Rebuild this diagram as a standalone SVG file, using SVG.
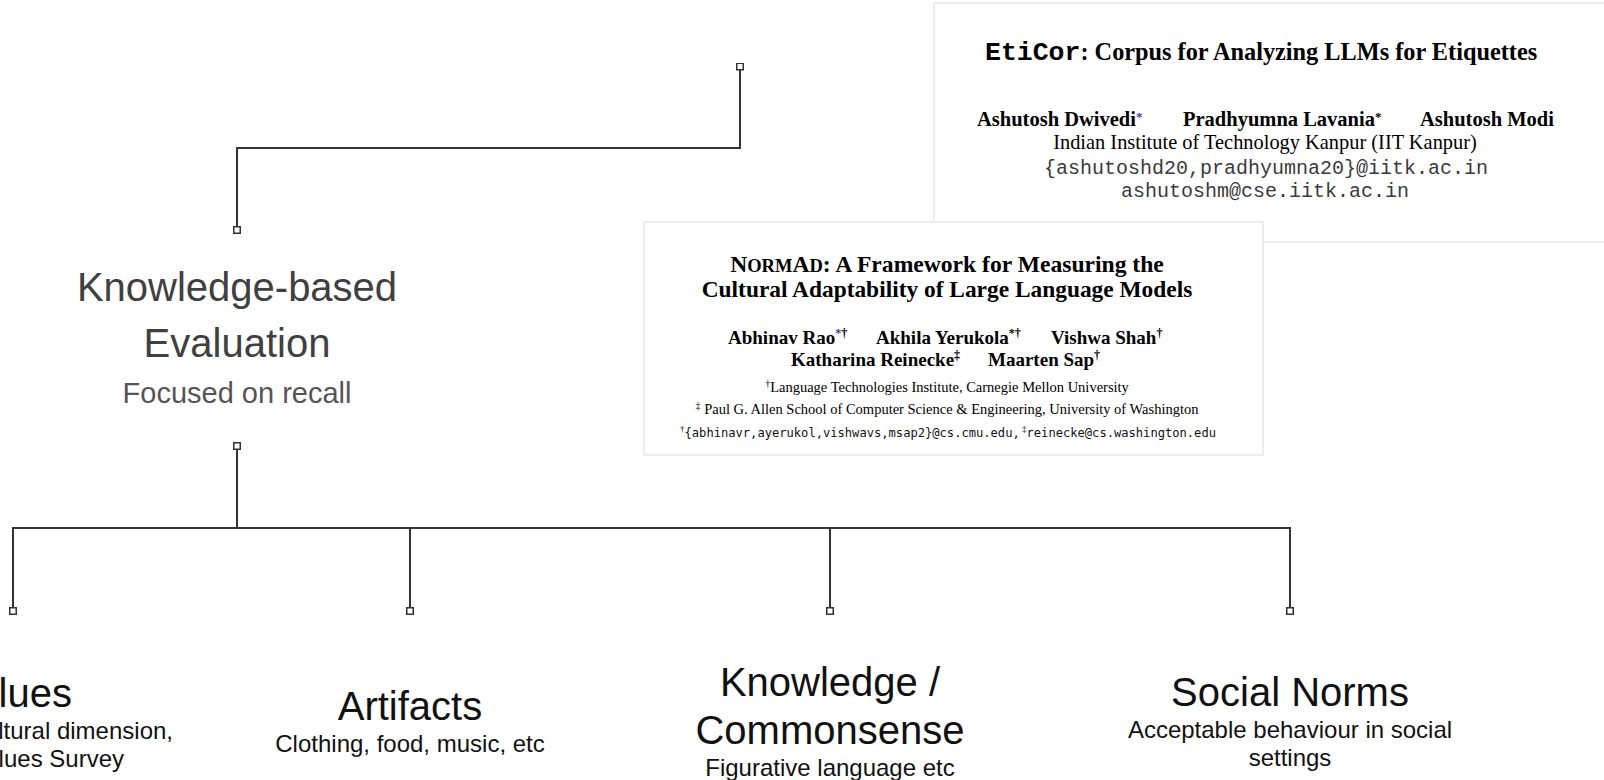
<svg xmlns="http://www.w3.org/2000/svg" width="1604" height="780" viewBox="0 0 1604 780">
  <style>
    .card { fill: #ffffff; stroke: #e6e6e6; stroke-width: 1.5; }
    .serif { font-family: "Liberation Serif", "Times New Roman", serif; fill: #000; }
    .b { font-weight: bold; }
    .mono { font-family: "Liberation Mono", "Courier New", monospace; }
    .tt { font-family: "DejaVu Sans Mono", monospace; }
    .sans { font-family: "Liberation Sans", Arial, sans-serif; }
    .mid { text-anchor: middle; }
    .end { text-anchor: end; }
    .head { font-size: 40px; fill: #111; }
    .sub { font-size: 24px; fill: #111; }
    .link { fill: none; stroke: #333; stroke-width: 2; marker-start: url(#box); marker-end: url(#box); }
    .blue { fill: #3b3bb3; }
  </style>
  <defs>
    <marker id="box" viewBox="0 0 8 8" refX="4" refY="4" markerWidth="8" markerHeight="8" markerUnits="userSpaceOnUse" orient="auto">
      <rect x="0.75" y="0.75" width="6.5" height="6.5" fill="#fff" stroke="#333" stroke-width="1.5"/>
    </marker>
  </defs>

  <rect width="1604" height="780" fill="#fff"/>

  <!-- EtiCor paper header -->
  <g id="paper-eticor">
    <rect class="card" x="934" y="3" width="700" height="239"/>
    <text class="serif b" x="985" y="60" font-size="24.3"><tspan class="mono" font-size="26.5">EtiCor</tspan>: Corpus for Analyzing LLMs for Etiquettes</text>
    <text class="serif b" font-size="20.5" y="126">
      <tspan x="977">Ashutosh Dwivedi</tspan><tspan class="blue" font-size="13" dy="-5">*</tspan>
      <tspan x="1183" dy="5">Pradhyumna Lavania</tspan><tspan font-size="13" dy="-5">*</tspan>
      <tspan x="1420" dy="5">Ashutosh Modi</tspan>
    </text>
    <text class="serif mid" x="1265" y="149" font-size="20.4">Indian Institute of Technology Kanpur (IIT Kanpur)</text>
    <text class="mono mid" x="1266" y="174" font-size="20" fill="#3a3a3a">{ashutoshd20,pradhyumna20}@iitk.ac.in</text>
    <text class="mono mid" x="1265" y="197" font-size="20" fill="#3a3a3a">ashutoshm@cse.iitk.ac.in</text>
  </g>

  <!-- NormAd paper header -->
  <g id="paper-normad">
    <rect class="card" x="644" y="222" width="619" height="233"/>
    <text class="serif b mid" x="947" y="272" font-size="23.6"><tspan>N</tspan><tspan font-size="18.5">ORM</tspan><tspan>A</tspan><tspan font-size="18.5">D</tspan>: A Framework for Measuring the</text>
    <text class="serif b mid" x="947" y="297" font-size="23.4">Cultural Adaptability of Large Language Models</text>
    <text class="serif b" font-size="19" y="344">
      <tspan x="728">Abhinav Rao</tspan><tspan font-size="12" dy="-7"><tspan class="blue">*</tspan>†</tspan>
      <tspan x="876" dy="7">Akhila Yerukola</tspan><tspan font-size="12" dy="-7">*†</tspan>
      <tspan x="1051" dy="7">Vishwa Shah</tspan><tspan font-size="12" dy="-7">†</tspan>
    </text>
    <text class="serif b" font-size="19" y="366">
      <tspan x="791">Katharina Reinecke</tspan><tspan font-size="12" dy="-7">‡</tspan>
      <tspan x="988" dy="7">Maarten Sap</tspan><tspan font-size="12" dy="-7">†</tspan>
    </text>
    <text class="serif mid" x="947" y="392" font-size="14.5"><tspan font-size="10" dy="-5">†</tspan><tspan dy="5">Language Technologies Institute, Carnegie Mellon University</tspan></text>
    <text class="serif mid" x="947" y="414" font-size="14.5"><tspan font-size="10" dy="-5">‡</tspan><tspan dy="5"> Paul G. Allen School of Computer Science &amp; Engineering, University of Washington</tspan></text>
    <text x="680" y="437" font-size="12" fill="#111" textLength="536" lengthAdjust="spacingAndGlyphs"><tspan class="serif" font-size="9" dy="-5">†</tspan><tspan class="tt" dy="5">{abhinavr,ayerukol,vishwavs,msap2}@cs.cmu.edu,</tspan><tspan class="serif" font-size="9" dy="-5"> ‡</tspan><tspan class="tt" dy="5">reinecke@cs.washington.edu</tspan></text>
  </g>

  <!-- connectors -->
  <g id="connectors">
    <path class="link" d="M740 66.5 V148 H237 V230"/>
    <path class="link" d="M237 446 V528 H13 V611"/>
    <path class="link" d="M237 446 V528 H410 V611"/>
    <path class="link" d="M237 446 V528 H830 V611"/>
    <path class="link" d="M237 446 V528 H1290 V611"/>
  </g>

  <!-- root category -->
  <g id="knowledge-based">
    <text class="sans mid" x="237" y="301" font-size="40" fill="#404040">Knowledge-based</text>
    <text class="sans mid" x="237" y="357" font-size="40" fill="#404040">Evaluation</text>
    <text class="sans mid" x="237" y="403" font-size="29" fill="#555">Focused on recall</text>
  </g>

  <!-- leaf categories -->
  <g id="values">
    <text class="sans end head" x="72" y="707">lues</text>
    <text class="sans end sub" x="173" y="739">ltural dimension,</text>
    <text class="sans end sub" x="124" y="767">lues Survey</text>
  </g>
  <g id="artifacts">
    <text class="sans mid head" x="410" y="720">Artifacts</text>
    <text class="sans mid sub" x="410" y="752">Clothing, food, music, etc</text>
  </g>
  <g id="knowledge-commonsense">
    <text class="sans mid head" x="830" y="696">Knowledge /</text>
    <text class="sans mid head" x="830" y="744">Commonsense</text>
    <text class="sans mid sub" x="830" y="776">Figurative language etc</text>
  </g>
  <g id="social-norms">
    <text class="sans mid head" x="1290" y="706">Social Norms</text>
    <text class="sans mid sub" x="1290" y="738">Acceptable behaviour in social</text>
    <text class="sans mid sub" x="1290" y="766">settings</text>
  </g>
</svg>
